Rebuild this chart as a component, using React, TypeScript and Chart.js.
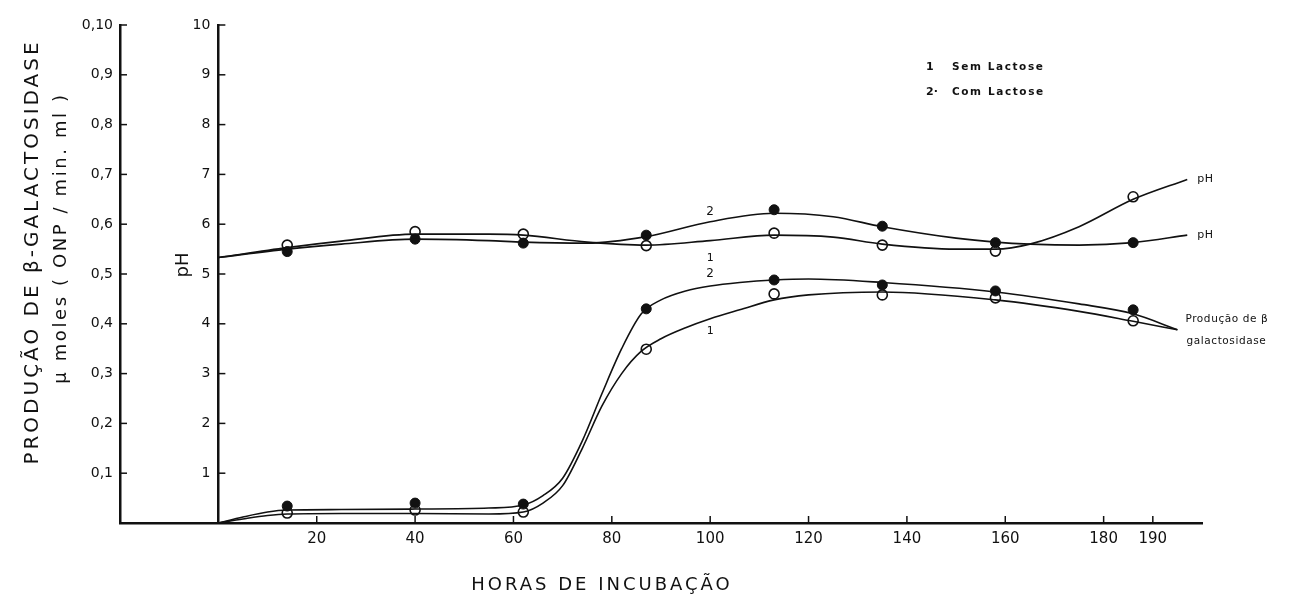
import React, { useEffect, useRef } from "react";
import { Chart, registerables } from "chart.js";

Chart.register(...registerables);

// ---- Data ----
// Sampling times (hours of incubation) for the measured points
const hours = [14, 40, 62, 87, 113, 135, 158, 186];

// β-galactosidase production (µmoles ONP / min. ml)
const enzymeSemLactose = [0.02, 0.026, 0.022, 0.349, 0.46, 0.458, 0.452, 0.406]; // 1 (open circles)
const enzymeComLactose = [0.034, 0.04, 0.038, 0.43, 0.488, 0.478, 0.466, 0.428]; // 2 (filled)

// pH
const phSemLactose = [5.58, 5.85, 5.8, 5.57, 5.82, 5.58, 5.46, 6.55]; // 1 (open)
const phComLactose = [5.45, 5.7, 5.62, 5.78, 6.29, 5.96, 5.63, 5.63]; // 2 (filled)

// Smoothed hand-drawn curves
const enzCurveHours = [0, 5, 10, 14, 25, 40, 55, 62, 66, 70, 74, 78, 82, 86, 90, 95, 100, 106, 113, 120, 135, 158, 175, 186, 195];
const enzCurveCom = [0, 0.012, 0.022, 0.026, 0.027, 0.028, 0.03, 0.036, 0.055, 0.09, 0.165, 0.26, 0.35, 0.42, 0.448, 0.466, 0.476, 0.483, 0.488, 0.49, 0.483, 0.464, 0.44, 0.42, 0.388];
const enzCurveSem = [0, 0.008, 0.015, 0.018, 0.019, 0.019, 0.018, 0.022, 0.04, 0.075, 0.15, 0.235, 0.3, 0.345, 0.37, 0.392, 0.41, 0.428, 0.448, 0.458, 0.464, 0.448, 0.425, 0.405, 0.388];

const phCurveHours = [0, 14, 25, 40, 55, 62, 75, 87, 100, 113, 125, 135, 150, 158, 165, 175, 186, 197];
const phCurveCom = [5.33, 5.5, 5.6, 5.7, 5.67, 5.64, 5.62, 5.75, 6.05, 6.22, 6.15, 5.95, 5.72, 5.64, 5.6, 5.58, 5.63, 5.78];
const phCurveSem = [5.33, 5.53, 5.66, 5.8, 5.8, 5.78, 5.64, 5.58, 5.67, 5.78, 5.74, 5.6, 5.5, 5.5, 5.6, 5.95, 6.5, 6.9];

// Axes
const xTickValues = [20, 40, 60, 80, 100, 120, 140, 160, 180, 190];
const enzTickValues = [0.1, 0.2, 0.3, 0.4, 0.5, 0.6, 0.7, 0.8, 0.9, 1.0];
const enzTickLabels = ["0,1", "0,2", "0,3", "0,4", "0,5", "0,6", "0,7", "0,8", "0,9", "0,10"];
const phTickValues = [1, 2, 3, 4, 5, 6, 7, 8, 9, 10];
const phTickLabels = ["1", "2", "3", "4", "5", "6", "7", "8", "9", "10"];

// Texts
const enzTitle1 = "PRODUÇÃO DE β-GALACTOSIDASE";
const enzTitle2 = "µ moles ( ONP / min. ml )";
const phTitle = "pH";
const xTitle = "HORAS DE INCUBAÇÃO";
const legendItems = [
  { num: "1", text: "Sem Lactose" },
  { num: "2·", text: "Com Lactose" },
];
const enzLabel = ["Produção de β", "galactosidase"];

const FONT = '"DejaVu Sans", "Liberation Sans", sans-serif';
const BLACK = "#111";

const toXY = (xs: number[], ys: number[]) => xs.map((x, i) => ({ x, y: ys[i] }));

const inwardTicks = {
  id: "inwardTicks",
  afterDraw(chart: any) {
    const { ctx, scales } = chart;
    ctx.save();
    ctx.strokeStyle = BLACK;
    ctx.lineWidth = 1.5;
    const xe = scales.yEnz.right;
    for (const v of enzTickValues) {
      const y = scales.yEnz.getPixelForValue(v);
      ctx.beginPath();
      ctx.moveTo(xe, y);
      ctx.lineTo(xe + 7, y);
      ctx.stroke();
    }
    const xp = scales.x.getPixelForValue(0);
    ctx.fillStyle = BLACK;
    ctx.font = `14px ${FONT}`;
    ctx.textAlign = "right";
    ctx.textBaseline = "middle";
    phTickValues.forEach((v, i) => {
      const y = scales.yPh.getPixelForValue(v);
      ctx.beginPath();
      ctx.moveTo(xp, y);
      ctx.lineTo(xp + 7, y);
      ctx.stroke();
      ctx.fillText(phTickLabels[i], xp - 8, y);
    });
    const yb = scales.yEnz.getPixelForValue(0);
    for (const v of xTickValues) {
      const x = scales.x.getPixelForValue(v);
      ctx.beginPath();
      ctx.moveTo(x, yb);
      ctx.lineTo(x, yb - 7);
      ctx.stroke();
    }
    ctx.restore();
  },
};

const textPlugin = {
  id: "texts",
  afterDraw(chart: any) {
    const { ctx, scales } = chart;
    const sx = scales.x;
    const se = scales.yEnz;
    const sp = scales.yPh;
    ctx.save();
    ctx.fillStyle = BLACK;
    ctx.textBaseline = "middle";

    const rot = (t: string, x: number, y: number, font: string, spacing: string) => {
      ctx.save();
      ctx.translate(x, y);
      ctx.rotate(-Math.PI / 2);
      ctx.font = font;
      (ctx as any).letterSpacing = spacing;
      ctx.textAlign = "center";
      ctx.fillText(t, 0, 0);
      ctx.restore();
    };
    const txt = (t: string, x: number, y: number, font: string, spacing: string, align: CanvasTextAlign = "left") => {
      ctx.font = font;
      (ctx as any).letterSpacing = spacing;
      ctx.textAlign = align;
      ctx.fillText(t, x, y);
    };

    // Left titles
    rot(enzTitle1, 33, 252, `20px ${FONT}`, "3px");
    rot(enzTitle2, 61, 238, `18px ${FONT}`, "2.6px");
    rot(phTitle, 183, 265, `18px ${FONT}`, "0px");

    // X title
    txt(xTitle, 602, 585, `18px ${FONT}`, "3px", "center");

    // Legend
    legendItems.forEach((it, i) => {
      const y = 67 + i * 25;
      txt(it.num, 926, y, `bold 11px ${FONT}`, "0px");
      txt(it.text, 952, y, `bold 10.5px ${FONT}`, "1.6px");
    });

    // End labels for pH curves
    const xEnd = sx.getPixelForValue(phCurveHours[phCurveHours.length - 1]) + 10;
    txt("pH", xEnd, sp.getPixelForValue(phCurveSem[phCurveSem.length - 1]), `11px ${FONT}`, "0.5px");
    txt("pH", xEnd, sp.getPixelForValue(phCurveCom[phCurveCom.length - 1]), `11px ${FONT}`, "0.5px");

    // Enzyme curve label
    const xe = sx.getPixelForValue(enzCurveHours[enzCurveHours.length - 1]) - 10;
    const ye = se.getPixelForValue(0.41);
    txt(enzLabel[0], xe + 18, ye, `10.5px ${FONT}`, "0.6px");
    txt(enzLabel[1], xe + 19, ye + 22, `10.5px ${FONT}`, "0.6px");

    // Curve numbers near 100 h
    const x100 = sx.getPixelForValue(100);
    txt("2", x100, sp.getPixelForValue(6.24), `12px ${FONT}`, "0px", "center");
    txt("1", x100, sp.getPixelForValue(5.32), `11px ${FONT}`, "0px", "center");
    txt("2", x100, se.getPixelForValue(0.5), `12px ${FONT}`, "0px", "center");
    txt("1", x100, se.getPixelForValue(0.385), `11px ${FONT}`, "0px", "center");

    ctx.restore();
  },
};

export default function App() {
  const ref = useRef<HTMLCanvasElement>(null);

  useEffect(() => {
    document.body.style.margin = "0";
    const canvas = ref.current;
    if (!canvas) return;

    const curveStyle = {
      borderColor: BLACK,
      borderWidth: 1.6,
      pointRadius: 0,
      fill: false,
      cubicInterpolationMode: "monotone" as const,
    };
    const filledPts = {
      showLine: false,
      pointRadius: 5,
      pointBackgroundColor: BLACK,
      pointBorderColor: BLACK,
      pointBorderWidth: 1,
      borderColor: BLACK,
    };
    const openPts = {
      showLine: false,
      pointRadius: 5,
      pointBackgroundColor: "#fff",
      pointBorderColor: BLACK,
      pointBorderWidth: 1.6,
      borderColor: BLACK,
    };

    const chart = new Chart(canvas, {
      type: "line",
      data: {
        datasets: [
          { label: "Enzima 2", data: toXY(enzCurveHours, enzCurveCom), yAxisID: "yEnz", ...curveStyle },
          { label: "Enzima 1", data: toXY(enzCurveHours, enzCurveSem), yAxisID: "yEnz", ...curveStyle },
          { label: "pH 2", data: toXY(phCurveHours, phCurveCom), yAxisID: "yPh", ...curveStyle },
          { label: "pH 1", data: toXY(phCurveHours, phCurveSem), yAxisID: "yPh", ...curveStyle },
          { label: "Enzima Com Lactose", data: toXY(hours, enzymeComLactose), yAxisID: "yEnz", ...filledPts },
          { label: "Enzima Sem Lactose", data: toXY(hours, enzymeSemLactose), yAxisID: "yEnz", ...openPts },
          { label: "pH Com Lactose", data: toXY(hours, phComLactose), yAxisID: "yPh", ...filledPts },
          { label: "pH Sem Lactose", data: toXY(hours, phSemLactose), yAxisID: "yPh", ...openPts },
        ],
      },
      options: {
        responsive: false,
        animation: false,
        layout: { padding: { top: 25, right: 87, left: 0, bottom: 0 } },
        plugins: { legend: { display: false }, tooltip: { enabled: false } },
        scales: {
          x: {
            type: "linear",
            position: "bottom",
            min: -20,
            max: 200,
            afterBuildTicks: (s: any) => {
              s.ticks = xTickValues.map((v) => ({ value: v }));
            },
            afterFit: (s: any) => {
              s.height = 79;
            },
            grid: { display: true, drawOnChartArea: false, drawTicks: false },
            border: { display: true, color: BLACK, width: 2.5 },
            ticks: {
              color: BLACK,
              font: { family: FONT, size: 15 },
              padding: 7,
              maxRotation: 0,
              autoSkip: false,
              callback: (v: any) => String(v),
            },
          },
          yEnz: {
            type: "linear",
            position: "left",
            min: 0,
            max: 1,
            afterBuildTicks: (s: any) => {
              s.ticks = enzTickValues.map((v) => ({ value: v }));
            },
            afterFit: (s: any) => {
              s.width = 120;
            },
            grid: { display: true, drawOnChartArea: false, drawTicks: false },
            border: { display: true, color: BLACK, width: 2.5 },
            ticks: {
              color: BLACK,
              font: { family: FONT, size: 14 },
              padding: 7,
              autoSkip: false,
              callback: (_v: any, i: number) => enzTickLabels[i],
            },
          },
          yPh: {
            type: "linear",
            position: { x: 0 } as any,
            min: 0,
            max: 10,
            afterBuildTicks: (s: any) => {
              s.ticks = phTickValues.map((v) => ({ value: v }));
            },
            grid: { display: true, drawOnChartArea: false, drawTicks: false },
            border: { display: true, color: BLACK, width: 2.5 },
            ticks: { display: false },
          },
        },
      },
      plugins: [inwardTicks, textPlugin],
    } as any);

    return () => chart.destroy();
  }, []);

  return (
    <div style={{ width: 1289, height: 602, background: "#fff" }}>
      <canvas ref={ref} width={1289} height={602} />
    </div>
  );
}
